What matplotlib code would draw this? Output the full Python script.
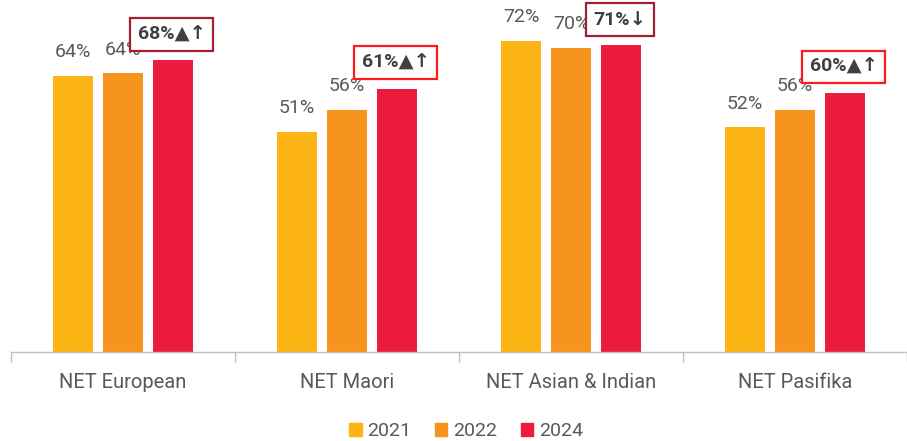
import matplotlib
matplotlib.use("Agg")
import matplotlib.pyplot as plt
import numpy as np

categories = ["NET European", "NET Maori", "NET Asian & Indian", "NET Pasifika"]
years = ["2021", "2022", "2024"]
v2021 = [64, 51, 72, 52]
v2022 = [64.5, 56, 70.5, 56]
v2024 = [67.5, 61, 71, 60]
lab2021 = ["64%", "51%", "72%", "52%"]
lab2022 = ["64%", "56%", "70%", "56%"]
lab2024 = ["68%", "61%", "71%", "60%"]
sig2024 = ["▲↑", "▲↑", "↓", "▲↑"]
box_colors = ["#A31F34", "#FF1A1A", "#A31F34", "#FF1A1A"]
colors = ["#FDB515", "#F7941E", "#ED1B3C"]

plt.rcParams['font.family'] = ['Roboto', 'DejaVu Sans']

fig = plt.figure(figsize=(9.07, 4.41), dpi=100)
ax = fig.add_axes([11/907, 89/441, 896/907, 352/441])

x = np.arange(len(categories))
w = 40/224
step = 50/224
series = [v2021, v2022, v2024]
for i, (vals, c) in enumerate(zip(series, colors)):
    ax.bar(x + (i-1)*step, vals, width=w, color=c, label=years[i], zorder=2)

ax.set_xlim(-0.5, 3.5)
ax.set_ylim(0, 81.5)
ax.set_yticks([])
for s in ["top", "right", "left"]:
    ax.spines[s].set_visible(False)
ax.spines["bottom"].set_color("#BFBFBF")
ax.spines["bottom"].set_linewidth(1.0)

ax.set_xticks(np.arange(-0.5, 3.6, 1.0))
ax.set_xticklabels([])
ax.tick_params(axis='x', length=7, color="#BFBFBF", width=1.0)
for xi, cat in zip(x, categories):
    ax.text(xi, -7.0, cat, ha='center', va='center', fontsize=14.5, color="#595959")

gray = "#595959"
for xi, v, l in zip(x, v2021, lab2021):
    ax.text(xi - step, v + 3.4, l, ha='center', va='bottom', fontsize=14, color=gray)
for xi, v, l in zip(x, v2022, lab2022):
    ax.text(xi, v + 3.4, l, ha='center', va='bottom', fontsize=14, color=gray)
for xi, v, l, sg, bc in zip(x, v2024, lab2024, sig2024, box_colors):
    ax.text(xi + step - 0.005, v + 3.9, l + sg, ha='center', va='bottom', fontsize=14,
            color="#404040", fontweight='bold',
            bbox=dict(boxstyle='square,pad=0.38', facecolor='white', edgecolor=bc, linewidth=1.6),
            zorder=5)

handles = [plt.Rectangle((0, 0), 1, 1, color=c) for c in colors]
fig.legend(handles, years, loc='center', bbox_to_anchor=(466/907, 1 - 431/441), ncol=3,
           frameon=False, fontsize=14, handlelength=0.65, handleheight=0.65,
           handletextpad=0.3, columnspacing=1.2, labelcolor=gray)

fig.savefig("out.png", dpi=100)
